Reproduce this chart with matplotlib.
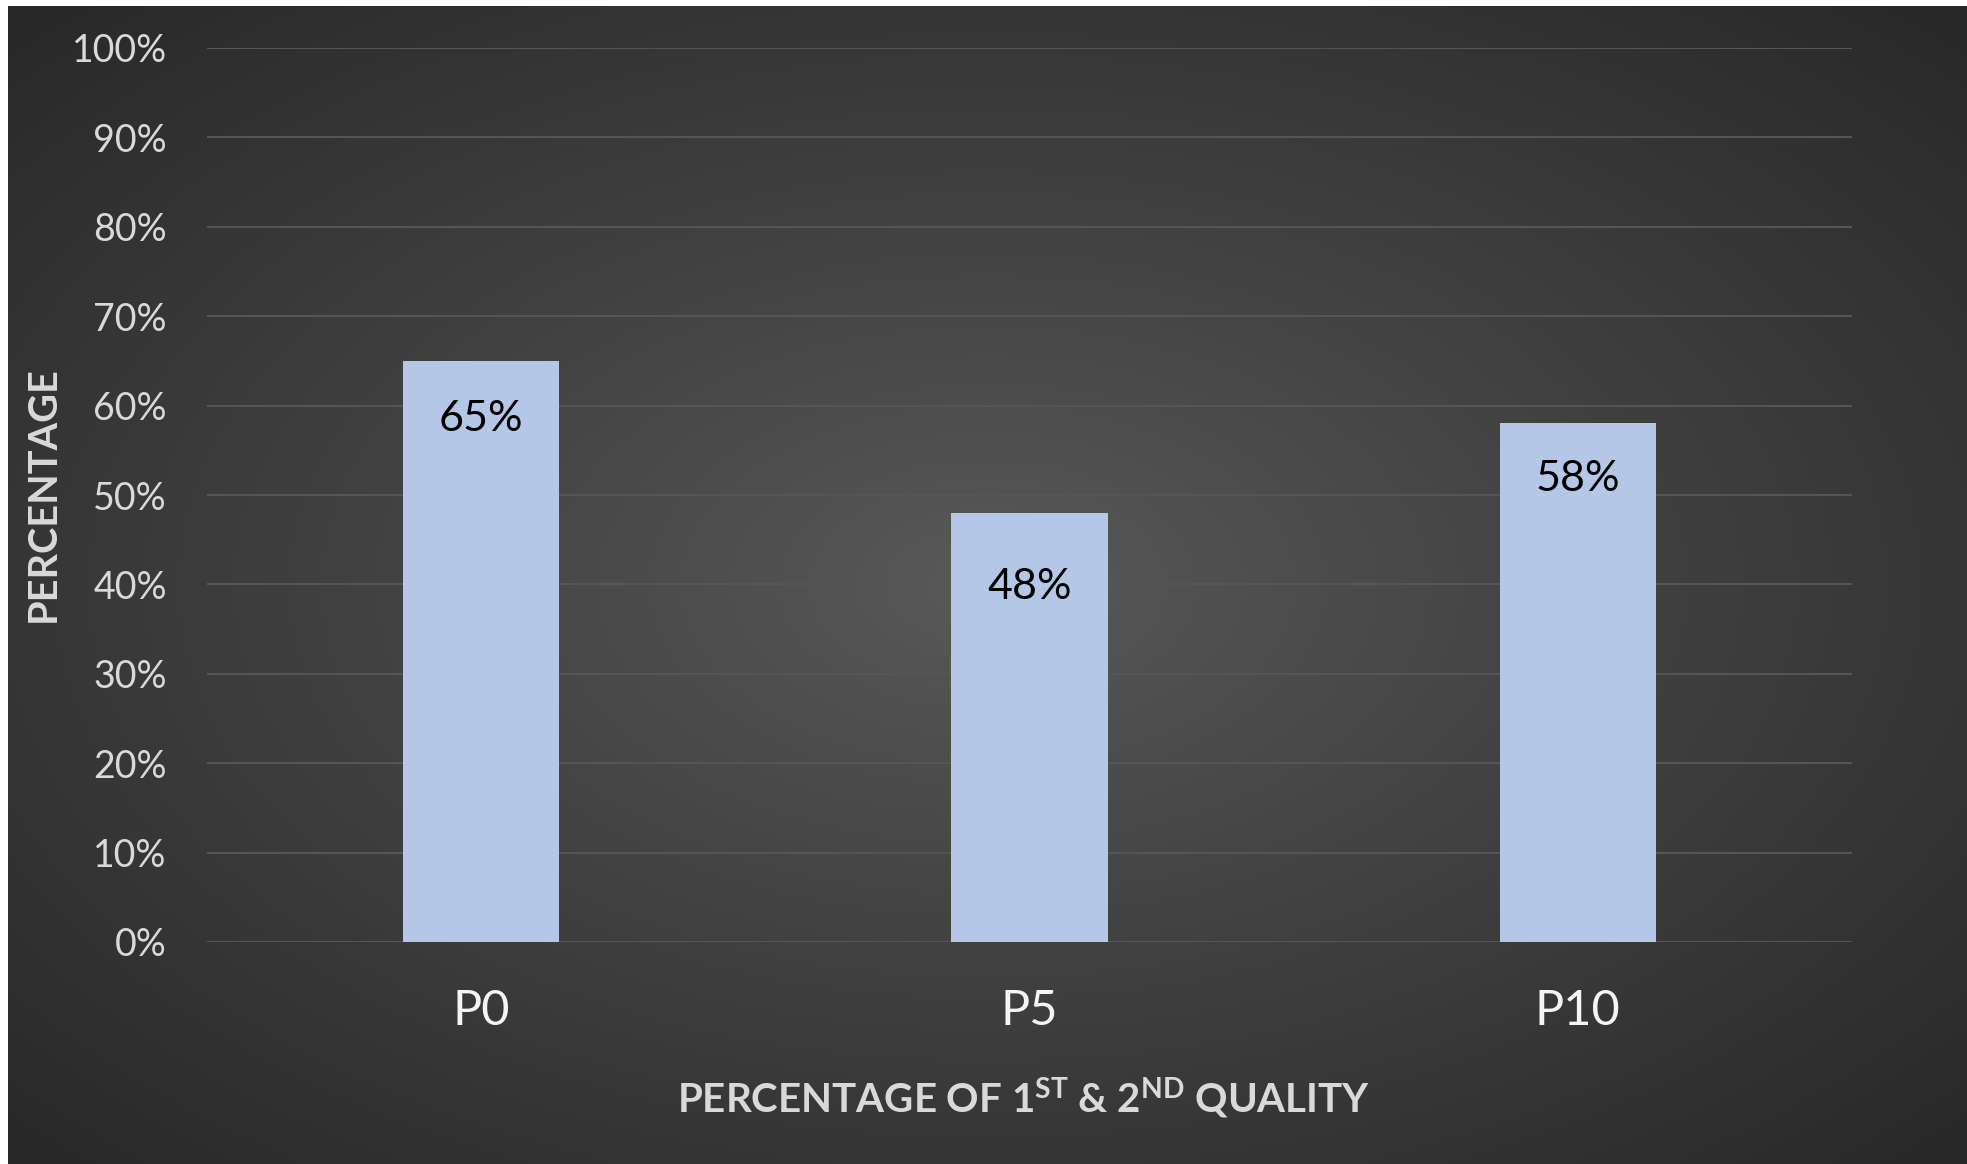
import numpy as np
import matplotlib
matplotlib.use("Agg")
import matplotlib.pyplot as plt
from matplotlib.ticker import PercentFormatter

categories = ["P0", "P5", "P10"]
values = [0.65, 0.48, 0.58]
value_labels = ["65%", "48%", "58%"]
y_ticks = [0.0, 0.1, 0.2, 0.3, 0.4, 0.5, 0.6, 0.7, 0.8, 0.9, 1.0]

W, H = 1967, 1164
DPI = 100
plt.rcParams["font.family"] = ["Lato", "DejaVu Sans"]
plt.rcParams["mathtext.fontset"] = "custom"
plt.rcParams["mathtext.rm"] = "Lato:bold"
plt.rcParams["mathtext.it"] = "Lato:bold"
plt.rcParams["mathtext.bf"] = "Lato:bold"

fig = plt.figure(figsize=(W / DPI, H / DPI), dpi=DPI, facecolor="white")

# radial dark gradient background
bg = fig.add_axes([8 / W, 0, 1 - 8 / W, 1 - 6 / H])
bg.set_axis_off()
nx, ny = 400, 240
xx, yy = np.meshgrid(np.linspace(0, 1, nx), np.linspace(0, 1, ny))
r = np.sqrt(((xx - 0.5) / 0.5) ** 2 + ((yy - 0.5) / 0.5) ** 2) / np.sqrt(2)
r = np.clip(r, 0, 1) ** 0.9
c_center = np.array([0x5a, 0x5a, 0x5a]) / 255
c_edge = np.array([0x28, 0x28, 0x28]) / 255
img = c_center[None, None, :] * (1 - r[..., None]) + c_edge[None, None, :] * r[..., None]
bg.imshow(img, aspect="auto", extent=[0, 1, 0, 1], interpolation="bilinear")
bg.set_xlim(0, 1)
bg.set_ylim(0, 1)

left, right, top, bottom = 207, 1852, 48, 942
ax = fig.add_axes([left / W, (H - bottom) / H, (right - left) / W, (bottom - top) / H])
ax.patch.set_alpha(0)

x = np.arange(len(categories))
bars = ax.bar(x, values, width=0.285, color="#b4c7e7", zorder=3)
# data labels sit inside the bar end; the middle one is nudged further down
label_drop = [-28, -40, -26]
for xi, v, lab, dy in zip(x, values, value_labels, label_drop):
    ax.annotate(lab, (xi, v), xytext=(0, dy), textcoords="offset points",
                ha="center", va="top", fontsize=31, color="black", zorder=4)

ax.set_xlim(-0.5, len(categories) - 0.5)
ax.set_ylim(0, 1.0)
ax.set_yticks(y_ticks)
ax.yaxis.set_major_formatter(PercentFormatter(1.0, decimals=0))
ax.set_xticks(x)
ax.set_xticklabels(categories)
ax.grid(axis="y", color="#555555", linewidth=1.5, zorder=0)
ax.set_axisbelow(True)
for s in ax.spines.values():
    s.set_visible(False)
ax.tick_params(axis="y", length=0, pad=29, labelsize=27, labelcolor="#d9d9d9")
ax.tick_params(axis="x", length=0, pad=34, labelsize=35, labelcolor="#f5f5f5")

fig.text(43 / W, 1 - 494 / H, "PERCENTAGE", rotation=90, ha="center", va="center",
         fontsize=28.5, fontweight="bold", color="#d9d9d9")
fig.text(1024 / W, 1 - 1098 / H,
         r"PERCENTAGE OF 1$^{\mathrm{ST}}$ & 2$^{\mathrm{ND}}$ QUALITY",
         ha="center", va="center", fontsize=29, fontweight="bold", color="#d9d9d9")

fig.savefig("out.png", dpi=DPI, facecolor=fig.get_facecolor())
